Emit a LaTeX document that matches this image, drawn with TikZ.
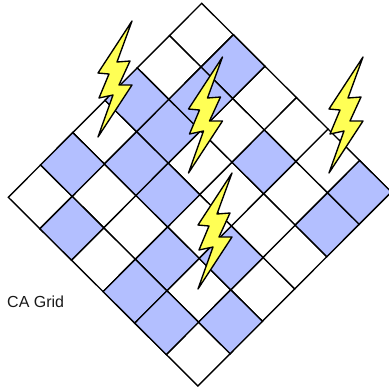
\documentclass[tikz,border=0pt]{standalone}
\usepackage{fontspec}
\setmainfont{Liberation Sans}
\definecolor{cellblue}{RGB}{179,191,255}
\definecolor{boltyellow}{RGB}{255,255,85}
\definecolor{labelgrey}{RGB}{25,25,25}
\tikzset{
  x=1bp,y=-1bp,
  grid cell/.style={draw=black,line width=1.35bp,fill=white,line join=miter},
  blue cell/.style={grid cell,fill=cellblue},
  bolt/.style={draw=black,line width=1.35bp,fill=boltyellow,line join=round},
  caption/.style={text=labelgrey,font=\fontsize{16bp}{18bp}\selectfont,inner sep=0pt,anchor=base west}
}
\newcommand{\boltshape}[2]{%
  \draw[bolt,shift={(#1,#2)}] (132,21) -- (117,62) -- (130,61) -- (119,85) -- (132,85) -- (98,137) -- (113,95) -- (99,98) -- (109,74) -- (98,73) -- cycle;}
\begin{document}
\begin{tikzpicture}
\useasboundingbox (0,0) rectangle (389,387);
\foreach \i in {0,...,5}{\foreach \j in {0,...,5}{
  \pgfmathsetmacro{\ax}{201.7+\i*31.6-\j*32.23}
  \pgfmathsetmacro{\ay}{3.3+\i*31.45+\j*32.33}
  \draw[grid cell] (\ax,\ay) -- ++(31.6,31.45) -- ++(-32.23,32.33) -- ++(-31.6,-31.45) -- cycle;
}}
\foreach \i/\j in {1/0,5/0,1/1,3/1,5/1,0/2,1/2,1/3,2/3,4/3,0/4,3/4,5/4,1/5,3/5,4/5}{
  \pgfmathsetmacro{\ax}{201.7+\i*31.6-\j*32.23}
  \pgfmathsetmacro{\ay}{3.3+\i*31.45+\j*32.33}
  \draw[blue cell] (\ax,\ay) -- ++(31.6,31.45) -- ++(-32.23,32.33) -- ++(-31.6,-31.45) -- cycle;
}
\boltshape{0}{0}
\boltshape{90.5}{36}
\boltshape{231}{36}
\boltshape{100}{152}
\node[caption] (lbl) at (7,307) {CA Grid};
\end{tikzpicture}
\end{document}
